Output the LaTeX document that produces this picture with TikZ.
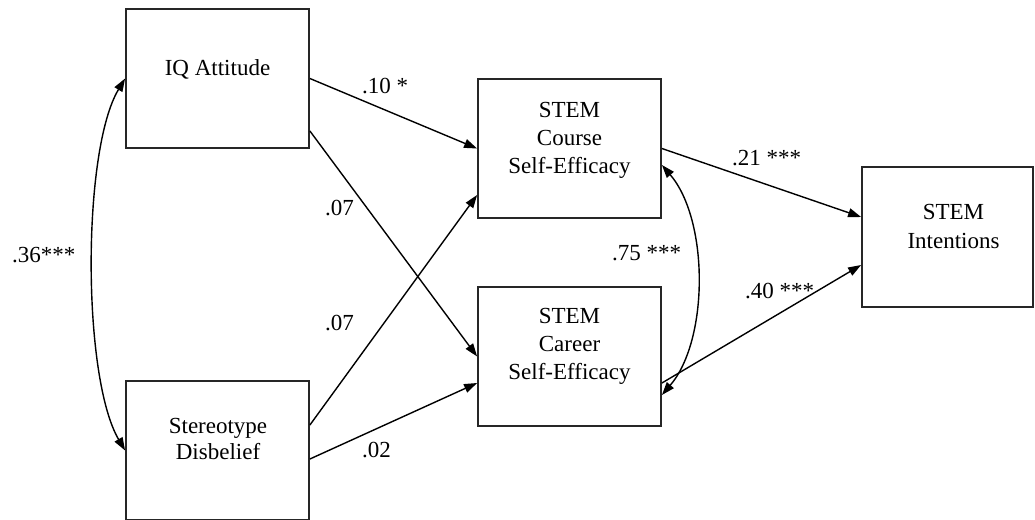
\documentclass[tikz,border=0pt]{standalone}
\usepackage{fontspec}
\setmainfont{Liberation Serif}
\usetikzlibrary{arrows.meta}
\begin{document}
\begin{tikzpicture}[x=1pt,y=-1pt,
  box/.style={draw=black!85,line width=1.8pt,rectangle,inner sep=0pt,minimum width=183pt,minimum height=139pt},
  txt/.style={anchor=base,align=center,inner sep=0pt,font=\fontsize{23}{28}\selectfont},
  lab/.style={anchor=base west,inner sep=0pt,font=\fontsize{23}{28}\selectfont},
  arr/.style={line width=1.4pt,-{Triangle[length=13pt,width=9pt]}},
  darr/.style={line width=1.4pt,{Triangle[length=13pt,width=9pt]}-{Triangle[length=13pt,width=9pt]}}]
\useasboundingbox (0,0) rectangle (1035,519);
% boxes
\node[box] (iq) at (217.5,78.5) {};
\node[box] (ster) at (217.5,450.5) {};
\node[box] (course) at (569.5,148.5) {};
\node[box] (career) at (569.5,356.5) {};
\node[box,minimum width=171pt,minimum height=140pt] (int) at (947.5,237) {};
% texts
\node[txt] (iqT) at (217.5,75) {IQ Attitude};
\node[txt] (sterT1) at (218,433) {Stereotype};
\node[txt] (sterT2) at (218,459) {Disbelief};
\node[txt] (courseT1) at (569.5,117) {STEM};
\node[txt] (courseT2) at (569.5,145) {Course};
\node[txt] (courseT3) at (569.5,173) {Self-Efficacy};
\node[txt] (careerT1) at (569.5,323) {STEM};
\node[txt] (careerT2) at (569.5,351) {Career};
\node[txt] (careerT3) at (569.5,379) {Self-Efficacy};
\node[txt] (intT1) at (953.5,219) {STEM};
\node[txt] (intT2) at (953.5,248) {Intentions};
% paths
\draw[arr] (iq.east) -- (course.west);
\draw[arr] ([yshift=-52.5pt]iq.east) -- (career.west);
\draw[arr] ([yshift=25.5pt]ster.east) -- ([yshift=-46.5pt]course.west);
\draw[arr] ([yshift=-8.5pt]ster.east) -- ([yshift=-26.5pt]career.west);
\draw[arr] (course.east) -- ([yshift=20pt]int.west);
\draw[arr] ([yshift=-26.5pt]career.east) -- ([yshift=-28pt]int.west);
\draw[darr] (iq.west) .. controls (82,150) and (82,377) .. (ster.west);
\draw[darr] ([yshift=-16.5pt]course.east) .. controls (709,220) and (709,340) .. ([yshift=-38.5pt]career.east);
% labels
\node[lab] (l1) at (362,93) {.10 *};
\node[lab] (l2) at (325,215) {.07};
\node[lab] (l3) at (325,330) {.07};
\node[lab] (l4) at (362,457) {.02};
\node[lab] (l5) at (732,165) {.21 ***};
\node[lab] (l6) at (612,260) {.75 ***};
\node[lab] (l7) at (745,298) {.40 ***};
\node[lab] (l8) at (12,262) {.36***};
\end{tikzpicture}
\end{document}
